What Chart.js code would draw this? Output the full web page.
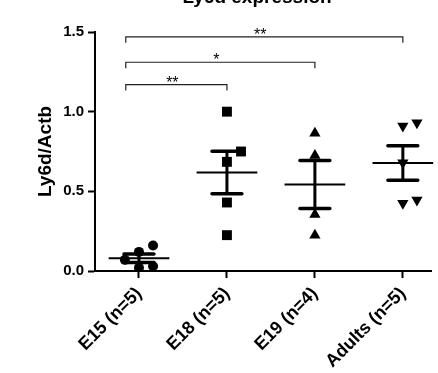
<!DOCTYPE html>
<html><head><meta charset="utf-8">
<script src="https://cdn.jsdelivr.net/npm/chart.js@4/dist/chart.umd.min.js"></script>
<style>html,body{margin:0;padding:0;background:#fff;overflow:hidden}</style>
</head><body><canvas id="c" width="438" height="373"></canvas>
<script>
const categories = ['E15 (n=5)', 'E18 (n=5)', 'E19 (n=4)', 'Adults (n=5)'];
const e15 = [0.16, 0.12, 0.07, 0.02, 0.03];
const e18 = [1.00, 0.75, 0.685, 0.43, 0.225];
const e19 = [0.865, 0.725, 0.355, 0.225];
const adults = [0.93, 0.91, 0.68, 0.445, 0.425];
const yTicks = [0.0, 0.5, 1.0, 1.5];
const compPairs = [[0, 1], [0, 2], [0, 3]];
const compLevels = [1.17, 1.31, 1.47];
const compLabels = ['**', '*', '**'];
const chartTitle = 'Ly6d expression';
const yTitle = 'Ly6d/Actb';

const groups = [e15, e18, e19, adults];
const FONT = '"Liberation Sans", Arial, sans-serif';

// simple beeswarm: spread points that would overlap within a group
function swarm(vals, idx) {
  const thr = 0.07, off = 0.16;
  const placed = [];
  const pts = [];
  vals.slice().sort((a, b) => a - b).forEach(v => {
    for (const o of [0, off, -off, 2 * off, -2 * off]) {
      if (!placed.some(p => p.o === o && Math.abs(p.v - v) < thr)) {
        placed.push({v, o});
        pts.push({x: idx + o, y: v});
        break;
      }
    }
  });
  return pts;
}

const markerStyles = [
  {pointStyle: 'circle', pointRadius: 5, pointRotation: 0},
  {pointStyle: 'rect', pointRadius: 7, pointRotation: 0},
  {pointStyle: 'triangle', pointRadius: 6.5, pointRotation: 0},
  {pointStyle: 'triangle', pointRadius: 6.5, pointRotation: 180}
];

const datasets = groups.map((vals, i) => Object.assign({
  label: categories[i],
  data: swarm(vals, i),
  backgroundColor: '#000',
  borderColor: '#000',
  borderWidth: 0,
  pointHoverRadius: 0,
  showLine: false
}, markerStyles[i]));

const overlay = {
  id: 'overlay',
  afterDatasetsDraw(chart) {
    const {ctx, scales: {x, y}} = chart;
    const unit = x.getPixelForValue(1) - x.getPixelForValue(0);
    ctx.save();
    ctx.strokeStyle = '#000';
    groups.forEach((vals, i) => {
      const n = vals.length;
      const mean = vals.reduce((a, b) => a + b, 0) / n;
      const sd = Math.sqrt(vals.reduce((a, b) => a + (b - mean) ** 2, 0) / (n - 1));
      const sem = sd / Math.sqrt(n);
      const cx = x.getPixelForValue(i);
      const ym = y.getPixelForValue(mean);
      const yt = y.getPixelForValue(mean + sem);
      const yb = y.getPixelForValue(mean - sem);
      // mean line
      ctx.lineCap = 'butt';
      ctx.lineWidth = 2;
      ctx.beginPath();
      ctx.moveTo(cx - 0.345 * unit, ym); ctx.lineTo(cx + 0.345 * unit, ym);
      ctx.stroke();
      // SEM
      ctx.lineWidth = 3;
      ctx.beginPath();
      ctx.moveTo(cx, yt); ctx.lineTo(cx, yb);
      ctx.stroke();
      ctx.lineCap = 'round';
      ctx.lineWidth = 3.5;
      ctx.beginPath();
      ctx.moveTo(cx - 0.17 * unit, yt); ctx.lineTo(cx + 0.17 * unit, yt);
      ctx.moveTo(cx - 0.17 * unit, yb); ctx.lineTo(cx + 0.17 * unit, yb);
      ctx.stroke();
    });
    // significance brackets
    ctx.lineCap = 'butt';
    ctx.lineWidth = 1.2;
    ctx.strokeStyle = '#222';
    ctx.fillStyle = '#000';
    ctx.font = '16px ' + FONT;
    ctx.textAlign = 'center';
    ctx.textBaseline = 'alphabetic';
    compPairs.forEach(([a, b], k) => {
      const ly = y.getPixelForValue(compLevels[k]);
      const x1 = x.getPixelForValue(a - 0.15);
      const x2 = x.getPixelForValue(b);
      ctx.beginPath();
      ctx.moveTo(x1, ly + 6); ctx.lineTo(x1, ly); ctx.lineTo(x2, ly); ctx.lineTo(x2, ly + 6);
      ctx.stroke();
      ctx.fillText(compLabels[k], (x1 + x2) / 2 - 4, ly + 3);
    });
    // chart title (cut at the top edge as in the reference)
    ctx.font = 'bold 19px ' + FONT;
    ctx.fillText(chartTitle, 257, 3);
    ctx.restore();
  }
};

new Chart(document.getElementById('c'), {
  type: 'scatter',
  data: {datasets},
  plugins: [overlay],
  options: {
    responsive: false,
    animation: false,
    devicePixelRatio: 1,
    layout: {padding: {top: 32, right: 0, left: 0, bottom: 0}},
    plugins: {legend: {display: false}, tooltip: {enabled: false}, title: {display: false}},
    scales: {
      x: {
        type: 'linear',
        min: -0.5,
        max: 3.32,
        afterBuildTicks: s => { s.ticks = categories.map((c, i) => ({value: i})); },
        afterFit: s => { s.height = 102; },
        ticks: {
          callback: v => categories[v],
          minRotation: 45, maxRotation: 45,
          color: '#000',
          font: {family: FONT, weight: 'bold', size: 18},
          padding: 5
        },
        grid: {drawOnChartArea: false, drawTicks: true, tickLength: 7, tickWidth: 2, tickColor: '#000'},
        border: {color: '#000', width: 2}
      },
      y: {
        min: 0,
        max: 1.5,
        afterBuildTicks: s => { s.ticks = yTicks.map(v => ({value: v})); },
        afterFit: s => { s.width = 95; },
        ticks: {
          callback: v => Number(v).toFixed(1),
          color: '#000',
          font: {family: FONT, weight: 'bold', size: 15},
          padding: 4
        },
        grid: {drawOnChartArea: false, drawTicks: true, tickLength: 7, tickWidth: 2, tickColor: '#000'},
        border: {color: '#000', width: 2},
        title: {
          display: true, text: yTitle, color: '#000',
          font: {family: FONT, weight: 'bold', size: 19},
          padding: {top: 34, bottom: 0}
        }
      }
    }
  }
});
</script>
</body></html>
